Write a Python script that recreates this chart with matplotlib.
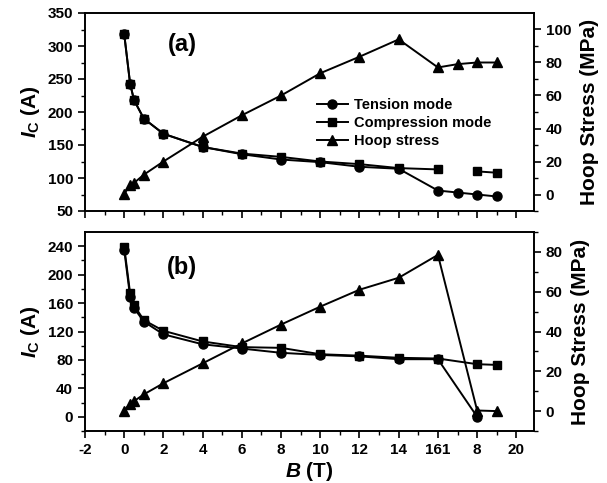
import matplotlib
matplotlib.use("Agg")
import matplotlib.pyplot as plt
import numpy as np
from matplotlib.lines import Line2D

plt.rcParams['font.family'] = ['Liberation Sans', 'DejaVu Sans']
plt.rcParams['font.weight'] = 'bold'
plt.rcParams['mathtext.fontset'] = 'custom'
plt.rcParams['mathtext.rm'] = 'Liberation Sans:bold'
plt.rcParams['mathtext.it'] = 'Liberation Sans:italic:bold'
plt.rcParams['mathtext.bf'] = 'Liberation Sans:bold'

# ---------- Data (a) ----------
a_tension_B = [0, 0.3, 0.5, 1, 2, 4, 6, 8, 10, 12, 14, 16, 17, 18, 19]
a_tension_Ic = [318, 243, 218, 190, 167, 147, 136, 128, 124, 117, 114, 81, 78, 75, 72]
a_comp_B = [0, 0.3, 0.5, 1, 2, 4, 6, 8, 10, 12, 14, 16, 17, 18, 19]
a_comp_Ic = [318, 243, 218, 190, 167, 147, 137, 132, 125, 121, 115, 113, np.nan, 110, 108]
a_hoop_B = [0, 0.3, 0.5, 1, 2, 4, 6, 8, 10, 12, 14, 16, 17, 18, 19]
a_hoop_MPa = [0.5, 5.5, 7, 12, 20, 35, 48, 60, 73.5, 83.5, 94, 77, 79, 80, 80]

# ---------- Data (b) ----------
b_tension_B = [0, 0.3, 0.5, 1, 2, 4, 6, 8, 10, 12, 14, 16, 18]
b_tension_Ic = [235, 169, 153, 134, 116, 102, 96, 90, 87, 85, 81, 81, 0]
b_comp_B = [0, 0.3, 0.5, 1, 2, 4, 6, 8, 10, 12, 14, 16, 18, 19]
b_comp_Ic = [239, 174, 157, 136, 121, 106, 98, 97, 88, 86, 83, 82, 74, 73]
b_hoop_B = [0, 0.3, 0.5, 1, 2, 4, 6, 8, 10, 12, 14, 16, 18, 19]
b_hoop_MPa = [0.3, 3.7, 5, 8.4, 14, 24, 34, 43.5, 52.5, 61, 67, 78.5, 0.3, 0]

x_ticks = [-2, 0, 2, 4, 6, 8, 10, 12, 14, 16, 18, 20]
x_ticklabels = ['-2', '0', '2', '4', '6', '8', '10', '12', '14', '161', '8', '20']
legend_labels = ['Tension mode', 'Compression mode', 'Hoop stress']

W, H = 607, 483
fig = plt.figure(figsize=(W / 100, H / 100), dpi=100)

L, R = 85, 534
def rect(top, bottom):
    return [L / W, 1 - bottom / H, (R - L) / W, (bottom - top) / H]

axA = fig.add_axes(rect(13, 211))
axB = fig.add_axes(rect(232, 431))
axA2 = axA.twinx()
axB2 = axB.twinx()

lw = 1.4
ms_c, ms_s, ms_t = 6.5, 6, 7.5
kw = dict(color='black', lw=lw)

# panel a
axA.plot(a_tension_B, a_tension_Ic, marker='o', ms=ms_c, **kw)
axA.plot(a_comp_B, a_comp_Ic, marker='s', ms=ms_s, **kw)
axA2.plot(a_hoop_B, a_hoop_MPa, marker='^', ms=ms_t, **kw)
# panel b
axB.plot(b_tension_B, b_tension_Ic, marker='o', ms=ms_c, **kw)
axB.plot(b_comp_B, b_comp_Ic, marker='s', ms=ms_s, **kw)
axB2.plot(b_hoop_B, b_hoop_MPa, marker='^', ms=ms_t, **kw)

tick_fs = 11
for ax in (axA, axB):
    ax.set_xlim(-2, 20.9)
    ax.set_xticks(x_ticks)
    ax.set_xticks(np.arange(-1, 21, 2), minor=True)
    ax.tick_params(axis='both', which='major', direction='out', length=5, width=1.2, labelsize=tick_fs, top=False)
    ax.tick_params(axis='both', which='minor', direction='out', length=3, width=1.0, top=False)
    for s in ax.spines.values():
        s.set_linewidth(1.2)

axA.set_xticklabels([])
axB.set_xticklabels(x_ticklabels)

axA.set_ylim(50, 350)
axA.set_yticks([50, 100, 150, 200, 250, 300, 350])
axA.set_yticks(np.arange(75, 350, 50), minor=True)
axB.set_ylim(-20, 260)
axB.set_yticks([0, 40, 80, 120, 160, 200, 240])
axB.set_yticks(np.arange(-20, 260, 40), minor=True)

axA2.set_ylim(-10, 110)
axA2.set_yticks([0, 20, 40, 60, 80, 100])
axA2.set_yticks(np.arange(-10, 110, 20), minor=True)
axB2.set_ylim(-10, 90)
axB2.set_yticks([0, 20, 40, 60, 80])
axB2.set_yticks(np.arange(-10, 91, 20), minor=True)
for ax in (axA2, axB2):
    ax.tick_params(axis='y', which='major', direction='out', length=5, width=1.2, labelsize=tick_fs)
    ax.tick_params(axis='y', which='minor', direction='out', length=3, width=1.0)
    for s in ax.spines.values():
        s.set_linewidth(1.2)

lab_fs = 15
for ax in (axA, axB):
    ax.set_ylabel(r'$\mathit{I}_{\mathrm{C}}$ (A)', fontsize=lab_fs, fontweight='bold', labelpad=4)
for ax in (axA2, axB2):
    ax.set_ylabel('Hoop Stress (MPa)', fontsize=lab_fs, fontweight='bold', labelpad=6)
axB.set_xlabel(r'$\mathit{B}$ (T)', fontsize=lab_fs, fontweight='bold', labelpad=2)

axA.text(0.216, 0.843, '(a)', transform=axA.transAxes, fontsize=17, fontweight='bold', ha='center', va='center')
axB.text(0.216, 0.824, '(b)', transform=axB.transAxes, fontsize=17, fontweight='bold', ha='center', va='center')

handles = [Line2D([], [], marker='o', ms=ms_c, **kw),
           Line2D([], [], marker='s', ms=ms_s, **kw),
           Line2D([], [], marker='^', ms=ms_t, **kw)]
axA2.legend(handles, legend_labels, loc='upper left', bbox_to_anchor=(0.517, 0.572),
            frameon=False, handlelength=2.1, handletextpad=0.4,
            labelspacing=0.3, borderpad=0, borderaxespad=0, prop={'weight': 'bold', 'size': 10.5})

fig.savefig('out.png', dpi=100)
